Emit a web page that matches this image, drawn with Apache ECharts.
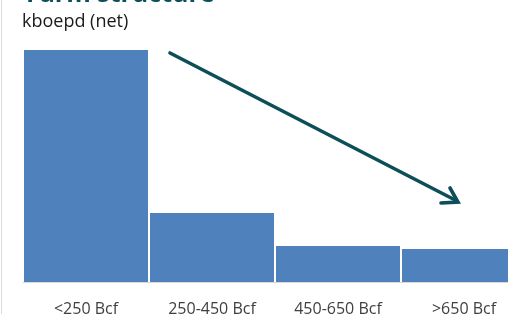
<!DOCTYPE html>
<html>
<head>
<meta charset="utf-8">
<script src="https://cdn.jsdelivr.net/npm/echarts@6/dist/echarts.min.js"></script>
<style>
html,body{margin:0;padding:0;background:#fff;overflow:hidden;width:508px;height:314px;}
#c{width:528px;height:314px;}
</style>
</head>
<body>
<div id="c"></div>
<script>
var categories = ['<250 Bcf', '250-450 Bcf', '450-650 Bcf', '>650 Bcf'];
var values = [100, 29.7, 15.5, 14.2];
var yMax = 100;

var chart = echarts.init(document.getElementById('c'), null, {renderer: 'canvas'});
chart.setOption({
  animation: false,
  backgroundColor: '#ffffff',
  grid: {left: 23, right: 1, top: 50, bottom: 32, containLabel: false, outerBoundsMode: 'none'},
  xAxis: {
    type: 'category',
    data: categories,
    axisLine: {show: true, lineStyle: {color: '#d9d9d9', width: 1}},
    axisTick: {show: false},
    axisLabel: {color: '#404040', fontSize: 16, fontFamily: 'Open Sans', margin: 19}
  },
  yAxis: {
    type: 'value',
    min: 0, max: yMax,
    show: false,
    splitLine: {show: false}
  },
  series: [{
    type: 'bar',
    data: values,
    barWidth: 124,
    itemStyle: {color: '#4f81bd'}
  }],
  graphic: [
    {type: 'line', shape: {x1: 1.5, y1: 0, x2: 1.5, y2: 314}, style: {stroke: '#dcdcdc', lineWidth: 1}},
    {type: 'text', x: 26, y: -18, style: {text: 'Farm structure', font: 'bold 25px "Open Sans"', fill: '#0b4f5a', verticalAlign: 'top'}},
    {type: 'text', x: 22, y: 13, style: {text: 'kboepd (net)', font: '18px "Open Sans"', fill: '#1a1a1a', verticalAlign: 'top'}},
    {type: 'line', shape: {x1: 170, y1: 53, x2: 457, y2: 201}, style: {stroke: '#0d4f59', lineWidth: 3.6, lineCap: 'round'}},
    {type: 'polyline', shape: {points: [[450, 188], [458, 202], [441, 203]]}, style: {stroke: '#0d4f59', lineWidth: 3.6, fill: null, lineJoin: 'miter', lineCap: 'round'}}
  ]
});
</script>
</body>
</html>
